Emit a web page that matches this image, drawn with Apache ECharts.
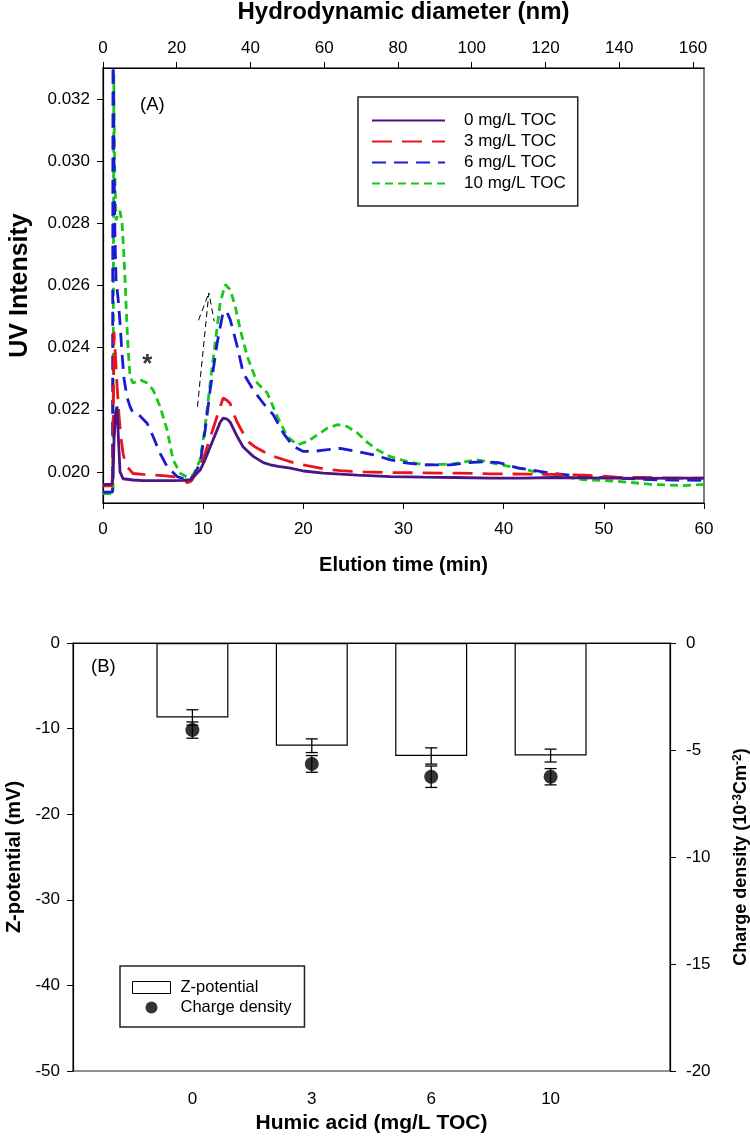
<!DOCTYPE html>
<html><head><meta charset="utf-8">
<script src="https://cdn.jsdelivr.net/npm/echarts@6/dist/echarts.min.js"></script>
<style>html,body{margin:0;padding:0;background:#fff}#c{width:750px;height:1142px}</style>
</head><body><div id="c"></div>
<script>
// ---------- Panel A data (elution time in min, UV intensity) ----------
const time0 = [0, 0.9, 1.0, 1.1, 1.25, 1.4, 1.55, 1.7, 2.0, 3, 4, 5, 6, 7, 8, 8.7, 9.2, 9.7, 10.2, 10.7, 11.2, 11.7, 12.0, 12.4, 12.7, 13.0, 13.4, 14.0, 14.5, 15.0, 16.0, 16.7, 17.5, 18.7, 20, 22, 25.4, 28.7, 32, 35, 38.7, 42, 45, 48, 51, 54, 57, 60];
const uv0 = [0.0196, 0.0196, 0.0198, 0.0210, 0.0219, 0.0221, 0.0210, 0.0200, 0.01978, 0.01974, 0.01972, 0.01972, 0.01972, 0.01972, 0.01973, 0.01975, 0.0199, 0.02006, 0.0204, 0.0208, 0.0212, 0.0216, 0.02173, 0.0217, 0.0216, 0.0214, 0.02114, 0.0208, 0.02065, 0.0205, 0.0203, 0.02023, 0.02018, 0.02012, 0.02003, 0.01996, 0.0199, 0.01985, 0.01983, 0.01982, 0.0198, 0.0198, 0.01982, 0.01981, 0.0198, 0.01979, 0.0198, 0.0198];

const time3 = [0, 0.9, 1.0, 1.1, 1.2, 1.4, 1.6, 1.8, 2.0, 2.3, 2.7, 3.0, 4, 5, 6, 7, 8, 8.4, 8.8, 9.2, 9.7, 10.2, 10.7, 11.2, 11.7, 12.0, 12.4, 12.7, 13.0, 13.4, 13.9, 14.4, 15.2, 16, 17, 18, 19, 20.4, 22, 23.7, 26, 28.7, 32, 35.4, 38.7, 42, 45, 48, 51.3, 54, 57, 60];
const uv3 = [0.01955, 0.01955, 0.0205, 0.0245, 0.0240, 0.0228, 0.0218, 0.0211, 0.0206, 0.0202, 0.02006, 0.01995, 0.01992, 0.0199, 0.01988, 0.01985, 0.01982, 0.01965, 0.0197, 0.0199, 0.0202, 0.0206, 0.0211, 0.0216, 0.0221, 0.02238, 0.0223, 0.0222, 0.0219, 0.0216, 0.0213, 0.0210, 0.0208, 0.02066, 0.0205, 0.0204, 0.0203, 0.0202, 0.0201, 0.02004, 0.0200, 0.01998, 0.01997, 0.01996, 0.01994, 0.01993, 0.01992, 0.0199, 0.01983, 0.01982, 0.0198, 0.0198];

const time6 = [0, 0.95, 1.0, 1.1, 1.2, 1.3, 1.5, 1.7, 1.9, 2.1, 2.4, 2.7, 3.0, 3.7, 4.4, 5.0, 5.7, 6.4, 7.4, 8.4, 9.0, 9.7, 10.2, 10.7, 11.4, 12.0, 12.4, 12.7, 13.4, 14, 15, 16, 17, 18, 19, 20, 21, 22, 23.7, 25.4, 27, 28.7, 30.4, 32, 34.7, 36.5, 38, 39.5, 41.4, 44.7, 48, 51.4, 54.7, 57, 60];
const uv6 = [0.01935, 0.01935, 0.0345, 0.0300, 0.0275, 0.0262, 0.0256, 0.0248, 0.0238, 0.0230, 0.0224, 0.0221, 0.0219, 0.0218, 0.02157, 0.02114, 0.0206, 0.02017, 0.01985, 0.01974, 0.01985, 0.02028, 0.02135, 0.02264, 0.02415, 0.02517, 0.02512, 0.0249, 0.02404, 0.02318, 0.02264, 0.02221, 0.02184, 0.02125, 0.02082, 0.02066, 0.02066, 0.0207, 0.02076, 0.02066, 0.02055, 0.02039, 0.02028, 0.02023, 0.02023, 0.0203, 0.02033, 0.0203, 0.02013, 0.01996, 0.01985, 0.0198, 0.01975, 0.01974, 0.01973];

const time10 = [0, 1.0, 1.08, 1.15, 1.3, 1.5, 1.7, 1.9, 2.05, 2.2, 2.35, 2.5, 2.7, 3.0, 3.7, 4.4, 5.0, 5.7, 6.4, 7.0, 7.7, 8.4, 9.0, 9.7, 10.2, 10.7, 11.2, 11.7, 12.2, 12.7, 13.2, 13.7, 14.4, 15.4, 16.4, 17.4, 18.4, 19.4, 20.4, 21.4, 22.4, 23.4, 24.4, 25.4, 26.4, 27.4, 28.7, 30.4, 32, 34.7, 37.4, 39.7, 41.4, 44.7, 48, 51.4, 54.7, 58, 60];
const uv10 = [0.0193, 0.0193, 0.0328, 0.0300, 0.0281, 0.0283, 0.0284, 0.0280, 0.0272, 0.0262, 0.0250, 0.0240, 0.02307, 0.02286, 0.02297, 0.02286, 0.02264, 0.0221, 0.02135, 0.02039, 0.01996, 0.01983, 0.0199, 0.02039, 0.02146, 0.02286, 0.02415, 0.02544, 0.02603, 0.02587, 0.02533, 0.02458, 0.02372, 0.02286, 0.02254, 0.02178, 0.02114, 0.02087, 0.02098, 0.02119, 0.02141, 0.02152, 0.02146, 0.02125, 0.02095, 0.02071, 0.02049, 0.02033, 0.02023, 0.02025, 0.02039, 0.02023, 0.02013, 0.0199, 0.01975, 0.0197, 0.0196, 0.01956, 0.0196];

const seriesNamesA = ['0 mg/L TOC', '3 mg/L TOC', '6 mg/L TOC', '10 mg/L TOC'];
const uvTicks = [0.020, 0.022, 0.024, 0.026, 0.028, 0.030, 0.032];
const diamTicks = [0, 20, 40, 60, 80, 100, 120, 140, 160];
// annotations (data coordinates)
const arrowShaft = [[9.43, 0.0221], [10.57, 0.02576], [11.1, 0.02485]];
const arrowWing = [[9.53, 0.02488], [10.57, 0.02576]];
const starMark = [[4.43, 0.02345]];

// ---------- Panel B data ----------
const humicLabels = ['0', '3', '6', '10'];
const zeta = [-8.7, -12.0, -13.2, -13.15];
const zetaErr = [0.9, 0.8, 0.95, 0.75];
const charge = [-4.07, -5.65, -6.25, -6.25];
const chargeErr = [0.38, 0.39, 0.5, 0.38];

const FONT = '"Liberation Sans", Arial, Helvetica, sans-serif';
const zip = (a, b) => a.map((x, i) => [x, b[i]]);
const colorsA = ['#4a1486', '#e8141e', '#1a1ad6', '#18c818'];
const dashA = ['solid', [20, 10], [14, 8], [8, 5]];
const timesA = [time0, time3, time6, time10];
const valsA = [uv0, uv3, uv6, uv10];

const chart = echarts.init(document.getElementById('c'), null, {renderer: 'canvas'});

const tickLab = {fontSize: 17, color: '#000', fontFamily: FONT};
const titleStyle = (fs) => ({fontSize: fs, fontWeight: 'bold', color: '#000', fontFamily: FONT});
const axLine = {show: true, lineStyle: {color: '#000', width: 1.2}};

function errRender(params, api) {
  const x = api.value(0), lo = api.value(1), hi = api.value(2);
  const pLo = api.coord([x, lo]), pHi = api.coord([x, hi]);
  const hw = 6;
  const st = {stroke: '#000', lineWidth: 1.3};
  return {type: 'group', children: [
    {type: 'line', shape: {x1: pLo[0], y1: pLo[1], x2: pHi[0], y2: pHi[1]}, style: st},
    {type: 'line', shape: {x1: pLo[0] - hw, y1: pLo[1], x2: pLo[0] + hw, y2: pLo[1]}, style: st},
    {type: 'line', shape: {x1: pHi[0] - hw, y1: pHi[1], x2: pHi[0] + hw, y2: pHi[1]}, style: st}
  ]};
}

const lineSeries = seriesNamesA.map((n, i) => ({
  name: n, type: 'line', xAxisIndex: 0, yAxisIndex: 0,
  data: zip(timesA[i], valsA[i]), showSymbol: false, symbol: 'none',
  lineStyle: {color: colorsA[i], width: 2.8, type: dashA[i]},
  itemStyle: {color: colorsA[i]}, z: 10 - i, clip: true
}));

const option = {
  animation: false,
  backgroundColor: '#fff',
  textStyle: {fontFamily: FONT},
  grid: [
    {left: 103, top: 68, width: 601, height: 435, show: true, borderColor: '#444', borderWidth: 1.4,
     backgroundColor: 'transparent', containLabel: false, outerBoundsMode: 'none'},
    {left: 73, top: 643, width: 597, height: 428, show: true, borderColor: '#222', borderWidth: 1.2,
     backgroundColor: 'transparent', containLabel: false, outerBoundsMode: 'none'}
  ],
  xAxis: [
    {gridIndex: 0, type: 'value', position: 'bottom', min: 0, max: 60, interval: 10,
     axisLine: axLine, axisTick: {show: true, inside: false, length: 6, lineStyle: {color: '#000'}},
     axisLabel: Object.assign({margin: 18}, tickLab), splitLine: {show: false},
     name: 'Elution time (min)', nameLocation: 'middle', nameGap: 52, nameTextStyle: titleStyle(20)},
    {gridIndex: 0, type: 'value', position: 'top', min: 0, max: 163,
     axisLine: axLine,
     axisTick: {show: true, inside: false, length: 6, lineStyle: {color: '#000'}, customValues: diamTicks},
     axisLabel: Object.assign({margin: 11, customValues: diamTicks}, tickLab), splitLine: {show: false},
     name: 'Hydrodynamic diameter (nm)', nameLocation: 'middle', nameGap: 44, nameTextStyle: titleStyle(24)},
    {gridIndex: 1, type: 'value', position: 'bottom', min: 0, max: humicLabels.length + 1,
     axisLine: axLine,
     axisTick: {show: true, inside: false, length: 6, lineStyle: {color: '#000'}, customValues: humicLabels.map((_, i) => i + 1)},
     axisLabel: Object.assign({margin: 20, customValues: humicLabels.map((_, i) => i + 1),
       formatter: v => humicLabels[Math.round(v) - 1] || ''}, tickLab),
     splitLine: {show: false},
     name: 'Humic acid (mg/L TOC)', nameLocation: 'middle', nameGap: 42, nameTextStyle: titleStyle(21)}
  ],
  yAxis: [
    {gridIndex: 0, type: 'value', position: 'left', min: 0.019, max: 0.033,
     axisLine: axLine,
     axisTick: {show: true, inside: false, length: 6, lineStyle: {color: '#000'}, customValues: uvTicks},
     axisLabel: Object.assign({margin: 13, customValues: uvTicks, formatter: v => v.toFixed(3)}, tickLab),
     splitLine: {show: false},
     name: 'UV Intensity', nameLocation: 'middle', nameRotate: 90, nameGap: 70, nameTextStyle: titleStyle(25)},
    {gridIndex: 1, type: 'value', position: 'left', min: -50, max: 0, interval: 10,
     axisLine: axLine, axisTick: {show: true, inside: false, length: 6, lineStyle: {color: '#000'}},
     axisLabel: Object.assign({margin: 13}, tickLab), splitLine: {show: false},
     name: 'Z-potential (mV)', nameLocation: 'middle', nameRotate: 90, nameGap: 42, nameTextStyle: titleStyle(20)},
    {gridIndex: 1, type: 'value', position: 'right', min: -20, max: 0, interval: 5,
     axisLine: axLine, axisTick: {show: true, inside: false, length: 6, lineStyle: {color: '#000'}},
     axisLabel: Object.assign({margin: 16}, tickLab), splitLine: {show: false},
     name: '{t|Charge density (10}{s|-3}{t|Cm}{s|-2}{t|)}', nameLocation: 'middle', nameRotate: 90, nameGap: 62,
     nameTextStyle: Object.assign({}, titleStyle(18), {rich: {
       t: {fontSize: 18, fontWeight: 'bold', fontFamily: FONT, color: '#000'},
       s: {fontSize: 12, fontWeight: 'bold', fontFamily: FONT, color: '#000', verticalAlign: 'top', padding: [0, 0, 7, 0]}
     }})}
  ],
  legend: [
    {data: seriesNamesA, orient: 'vertical', left: 358, top: 97,
     padding: [15, 12, 14, 13], itemGap: 4, itemWidth: 73, itemHeight: 14,
     borderColor: '#222', borderWidth: 1.5, backgroundColor: '#fff', selectedMode: false,
     itemStyle: {opacity: 0, color: 'rgba(0,0,0,0)', borderWidth: 0},
     textStyle: {fontSize: 17, color: '#000', fontFamily: FONT, padding: [0, 0, 0, 14]}},
    {data: [
       {name: 'Z-potential', icon: 'rect', itemStyle: {color: '#fff', borderColor: '#000', borderWidth: 1}},
       {name: 'Charge density', icon: 'circle', itemStyle: {color: '#000'}}],
     orient: 'vertical', left: 120, top: 966,
     padding: [13, 13, 11, 12], itemGap: 3, itemWidth: 38, itemHeight: 12,
     borderColor: '#222', borderWidth: 1.5, backgroundColor: '#fff', selectedMode: false,
     textStyle: {fontSize: 16.5, color: '#000', fontFamily: FONT, padding: [0, 0, 0, 5]}}
  ],
  graphic: [
    {type: 'text', left: 140, top: 95, style: {text: '(A)', fontSize: 18.5, fontFamily: FONT, fill: '#000'}},
    {type: 'text', left: 91, top: 657, style: {text: '(B)', fontSize: 18.5, fontFamily: FONT, fill: '#000'}}
  ],
  series: lineSeries.concat([
    {name: 'arrowShaft', type: 'line', xAxisIndex: 0, yAxisIndex: 0, data: arrowShaft, symbol: 'none',
     lineStyle: {color: '#000', width: 1, type: [6, 4]}, z: 20, silent: true},
    {name: 'arrowWing', type: 'line', xAxisIndex: 0, yAxisIndex: 0, data: arrowWing, symbol: 'none',
     lineStyle: {color: '#000', width: 1, type: [6, 4]}, z: 20, silent: true},
    {name: 'star', type: 'scatter', xAxisIndex: 0, yAxisIndex: 0, data: starMark, symbolSize: 1,
     itemStyle: {color: 'rgba(0,0,0,0)'},
     label: {show: true, position: 'inside', formatter: '*', fontSize: 26, fontWeight: 'bold', color: '#000', fontFamily: FONT}, z: 20},
    {name: 'Z-potential', type: 'bar', xAxisIndex: 2, yAxisIndex: 1,
     data: zeta.map((v, i) => [i + 1, v]), barWidth: 72,
     itemStyle: {color: '#fff', borderColor: '#000', borderWidth: 1.2}, z: 2},
    {name: 'zetaErr', type: 'custom', xAxisIndex: 2, yAxisIndex: 1, renderItem: errRender,
     data: zeta.map((v, i) => [i + 1, v - zetaErr[i], v + zetaErr[i]]), z: 3, silent: true},
    {name: 'chargeErr', type: 'custom', xAxisIndex: 2, yAxisIndex: 2, renderItem: errRender,
     data: charge.map((v, i) => [i + 1, v - chargeErr[i], v + chargeErr[i]]), z: 4, silent: true},
    {name: 'Charge density', type: 'scatter', xAxisIndex: 2, yAxisIndex: 2,
     data: charge.map((v, i) => [i + 1, v]), symbol: 'circle', symbolSize: 14,
     itemStyle: {color: '#000'}, z: 5}
  ])
};
chart.setOption(option);
</script></body></html>
